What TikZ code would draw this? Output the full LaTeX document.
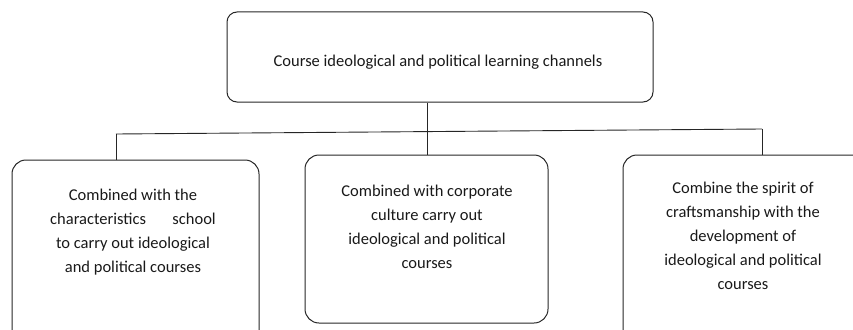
\documentclass[tikz,border=0pt]{standalone}
\usepackage{fontspec}
\setmainfont{Carlito}
\begin{document}
\begin{tikzpicture}[x=1pt,y=-1pt,
  box/.style={draw=black!85, line width=1pt, rounded corners=14pt, inner sep=0pt},
  txt/.style={align=center, font=\fontsize{16.5}{24}\selectfont, text=black!90, inner sep=0pt},
  conn/.style={draw=black!85, line width=0.9pt}]
\clip (0,0) rectangle (853,329);
\useasboundingbox (0,0) rectangle (853,329);
% boxes
\node[box, rounded corners=10pt, minimum width=426pt, minimum height=90pt] (top) at (440,57) {};
\node[box, minimum width=247pt, minimum height=184pt] (b1) at (135.5,252) {};
\node[box, minimum width=243pt, minimum height=168pt] (b2) at (426.5,239) {};
\node[box, minimum width=247pt, minimum height=194pt] (b3) at (746.5,252) {};
% texts
\node[txt] (t0) at (438,62) {Course ideological and political learning channels};
\node[txt] (t1) at (133,232) {Combined with the\\characteristics\hspace{1.6em}school\\to carry out ideological\\and political courses};
\node[txt] (t2) at (427,227) {Combined with corporate\\culture carry out\\ideological and political\\courses};
\node[txt] (t3) at (743,236) {Combine the spirit of\\craftsmanship with the\\development of\\ideological and political\\courses};
% connectors
\coordinate (j1) at (116,134);
\coordinate (j3) at (762,129);
\coordinate (jm) at (427,131.6);
\draw[conn] (j1) -- (j3);
\draw[conn] (top.south -| jm) -- (b2.north -| jm);
\draw[conn] (j1) -- (b1.north -| j1);
\draw[conn] (j3) -- (b3.north -| j3);
\end{tikzpicture}
\end{document}
